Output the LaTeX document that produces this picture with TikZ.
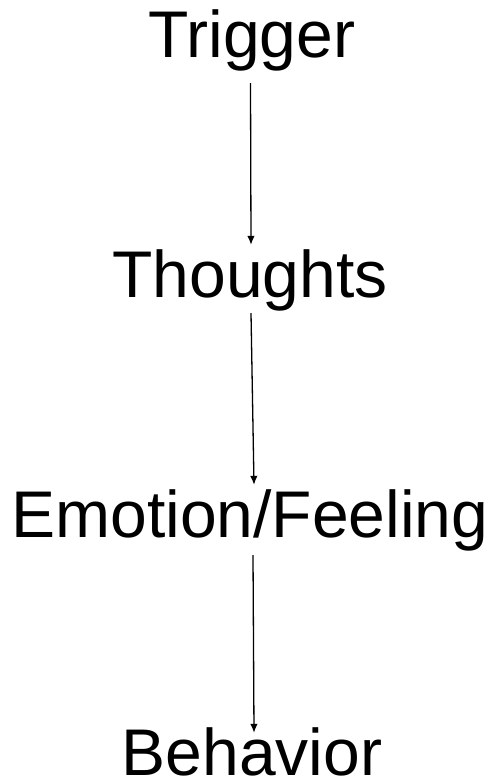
\documentclass[tikz,border=0pt]{standalone}
\usepackage{fontspec}
\setmainfont{Liberation Sans}
\usetikzlibrary{arrows.meta}
\begin{document}
\begin{tikzpicture}[x=1pt,y=1pt,
  lbl/.style={anchor=base,inner sep=0pt,text height=47.5pt,text depth=14pt,
    font=\fontsize{66}{80}\selectfont},
  arr/.style={line width=1.3pt,-{Latex[length=9pt,width=7.5pt]}}]
\useasboundingbox (0,0) rectangle (496,-781);
\node[lbl] (trig) at (252,-58) {Trigger};
\node[lbl] (thou) at (250,-297) {Thoughts};
\node[lbl] (emo) at (250,-537) {Emotion/Feeling};
\node[lbl,text depth=1pt] (beh) at (252,-775) {Behavior};
\draw[arr] ([xshift=-1.5pt,yshift=-11pt]trig.south) -- ([xshift=1pt,yshift=4.5pt]thou.north);
\draw[arr] ([xshift=1pt,yshift=-2pt]thou.south) -- ([xshift=4pt,yshift=4.5pt]emo.north);
\draw[arr] ([xshift=3pt,yshift=-4pt]emo.south) -- ([xshift=2pt,yshift=-5.5pt]beh.north);
\end{tikzpicture}
\end{document}
